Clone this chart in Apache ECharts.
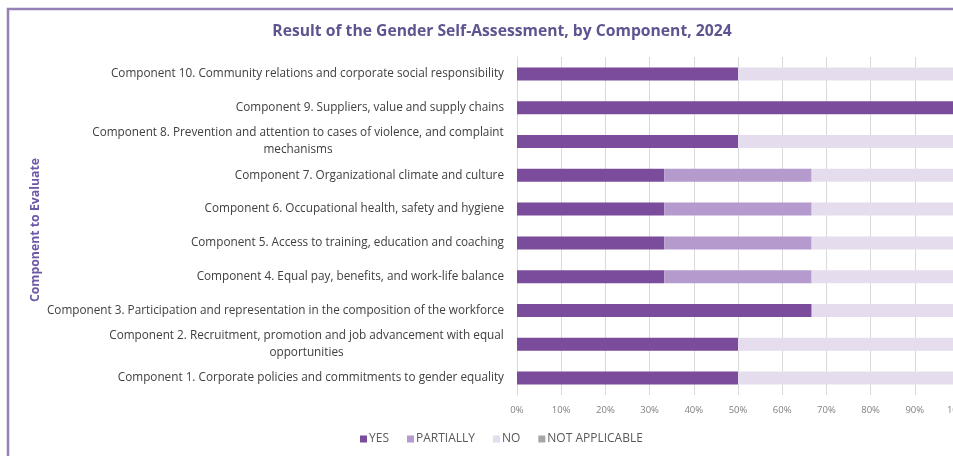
<!DOCTYPE html>
<html><head><meta charset="utf-8">
<script src="https://cdn.jsdelivr.net/npm/echarts@6/dist/echarts.min.js"></script>
<style>html,body{margin:0;padding:0;background:#fff}#c{width:953px;height:456px}</style>
</head><body><div id="c"></div>
<script>
const categories = [
  "Component 1. Corporate policies and commitments to gender equality",
  "Component 2. Recruitment, promotion and job advancement with equal\nopportunities",
  "Component 3. Participation and representation in the composition of the workforce",
  "Component 4. Equal pay, benefits, and work-life balance",
  "Component 5. Access to training, education and coaching",
  "Component 6. Occupational health, safety and hygiene",
  "Component 7. Organizational climate and culture",
  "Component 8. Prevention and attention to cases of violence, and complaint\nmechanisms",
  "Component 9. Suppliers, value and supply chains",
  "Component 10. Community relations and corporate social responsibility"
];
const yesValues       = [50, 50, 66.67, 33.33, 33.33, 33.33, 33.33, 50, 100, 50];
const partiallyValues = [0, 0, 0, 33.33, 33.33, 33.33, 33.33, 0, 0, 0];
const noValues        = [50, 50, 33.33, 33.34, 33.34, 33.34, 33.34, 50, 0, 50];
const naValues        = [0, 0, 0, 0, 0, 0, 0, 0, 0, 0];
const seriesNames = ["YES", "PARTIALLY", "NO", "NOT APPLICABLE"];
const tickLabels = ["0%","10%","20%","30%","40%","50%","60%","70%","80%","90%","100%"];

const FF = "'Open Sans', 'Liberation Sans', Arial, sans-serif";
const LABEL_SIZE = 11.75;
const cv = document.createElement('canvas').getContext('2d');
cv.font = LABEL_SIZE + "px " + FF;

// rich styles for multi-line labels: lines centered inside the widest line's box
const rich = {};
categories.forEach((c, i) => {
  if (c.indexOf('\n') >= 0) {
    const w = Math.max.apply(null, c.split('\n').map(l => cv.measureText(l).width));
    rich['c' + i] = {align: 'center', width: Math.ceil(w), fontSize: LABEL_SIZE, lineHeight: 17, color: '#404040', fontFamily: FF};
  }
});

const chart = echarts.init(document.getElementById('c'), null, {renderer:'canvas'});
const colors = ['#7b4b9c', '#b59acd', '#e5ddee', '#a6a6a6'];
const valueSets = [yesValues, partiallyValues, noValues, naValues];

chart.setOption({
  animation: false,
  color: colors,
  title: {
    text: "Result of the Gender Self-Assessment, by Component, 2024",
    left: 497, top: 19, textAlign: 'center',
    textStyle: {fontFamily: FF, fontSize: 15.7, fontWeight: 'bold', color: '#5f548f'}
  },
  legend: {
    left: 355, top: 428, itemWidth: 7, itemHeight: 7, itemGap: 18,
    icon: 'rect',
    textStyle: {fontFamily: FF, fontSize: 12, color: '#595959', padding: [0,0,0,-3]},
    data: seriesNames
  },
  grid: {left: 517, right: -6, top: 57, bottom: 61, containLabel: false, outerBoundsMode: 'none'},
  xAxis: {
    type: 'value', min: 0, max: 100, interval: 10,
    axisLine: {show: false}, axisTick: {show: false},
    splitLine: {lineStyle: {color: '#d9d9d9', width: 1}},
    axisLabel: {
      margin: 10,
      formatter: v => tickLabels[Math.round(v/10)],
      fontFamily: FF, fontSize: 9.5, color: '#808080'
    }
  },
  yAxis: {
    type: 'category', data: categories,
    axisLine: {show: true, lineStyle: {color: '#d9d9d9'}}, axisTick: {show: false},
    axisLabel: {
      margin: 13, color: '#404040',
      fontFamily: FF, fontSize: LABEL_SIZE, lineHeight: 17,
      formatter: function (v) {
        if (v.indexOf('\n') < 0) return v;
        const i = categories.indexOf(v);
        return v.split('\n').map(l => '{c' + i + '|' + l + '}').join('\n');
      },
      rich: rich
    }
  },
  graphic: [
    {type: 'rect', shape: {x: 8, y: 9, width: 1000, height: 500}, style: {fill: 'none', stroke: '#9481b6', lineWidth: 2.5}, z: 100},
    {type: 'text', x: 35, y: 230, rotation: Math.PI/2,
     style: {text: 'Component to Evaluate', fill: '#6c58a6', font: "bold 12.3px " + FF, textAlign: 'center', textVerticalAlign: 'middle'}}
  ],
  series: seriesNames.map((n, i) => ({
    name: n, type: 'bar', stack: 'total', barWidth: 13,
    data: valueSets[i],
    itemStyle: {color: colors[i]}
  }))
});
</script>
</body></html>
